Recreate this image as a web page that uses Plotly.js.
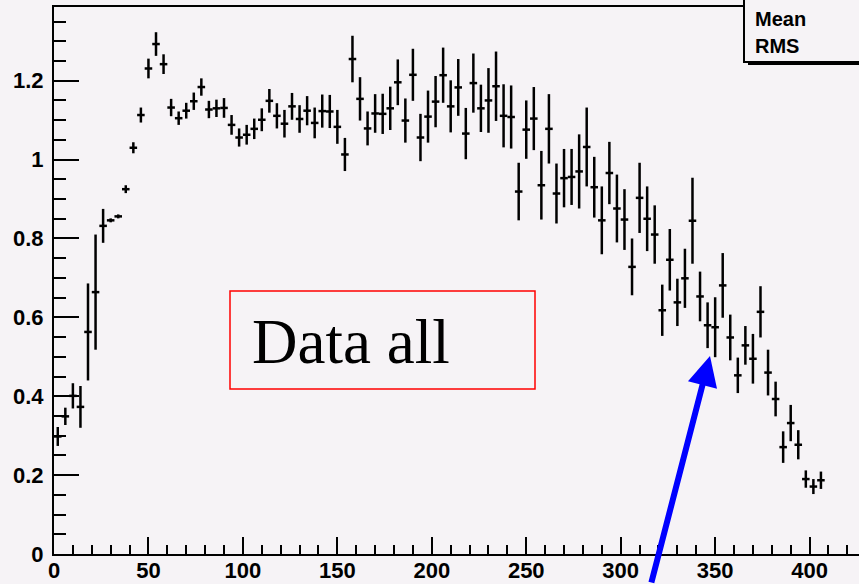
<!DOCTYPE html>
<html>
<head>
<meta charset="utf-8">
<script src="https://cdn.plot.ly/plotly-3.0.1.min.js"></script>
<style>
  html, body { margin: 0; padding: 0; background: #f6f3f6; }
  #chart { width: 859px; height: 584px; }
</style>
</head>
<body>
<div id="chart"></div>
<script>
// Bin centres of the histogram (bin width 4)
const binCenters = [
  2, 6, 10, 14, 18, 22, 26, 30, 34, 38,
  42, 46, 50, 54, 58, 62, 66, 70, 74, 78,
  82, 86, 90, 94, 98, 102, 106, 110, 114, 118,
  122, 126, 130, 134, 138, 142, 146, 150, 154, 158,
  162, 166, 170, 174, 178, 182, 186, 190, 194, 198,
  202, 206, 210, 214, 218, 222, 226, 230, 234, 238,
  242, 246, 250, 254, 258, 262, 266, 270, 274, 278,
  282, 286, 290, 294, 298, 302, 306, 310, 314, 318,
  322, 326, 330, 334, 338, 342, 346, 350, 354, 358,
  362, 366, 370, 374, 378, 382, 386, 390, 394, 398,
  402, 406
];
const binHalfWidth = 2;

// Bin contents
const binValues = [
  0.298, 0.349, 0.401, 0.373, 0.563, 0.664, 0.832, 0.846, 0.856, 0.925,
  1.030, 1.113, 1.231, 1.293, 1.242, 1.132, 1.105, 1.124, 1.148, 1.184,
  1.127, 1.130, 1.131, 1.088, 1.056, 1.063, 1.078, 1.101, 1.149, 1.111,
  1.091, 1.135, 1.103, 1.124, 1.093, 1.123, 1.122, 1.083, 1.013, 1.255,
  1.154, 1.079, 1.117, 1.116, 1.130, 1.196, 1.099, 1.215, 1.056, 1.109,
  1.147, 1.214, 1.135, 1.183, 1.066, 1.194, 1.130, 1.150, 1.186, 1.111,
  1.108, 0.919, 1.076, 1.104, 0.935, 1.078, 0.914, 0.953, 0.956, 0.970,
  1.032, 0.930, 0.846, 0.966, 0.876, 0.848, 0.728, 0.903, 0.850, 0.810,
  0.618, 0.746, 0.638, 0.699, 0.845, 0.653, 0.580, 0.575, 0.681, 0.549,
  0.453, 0.529, 0.495, 0.614, 0.460, 0.393, 0.271, 0.332, 0.277, 0.190,
  0.171, 0.187
];

// Bin errors
const binErrors = [
  0.024, 0.022, 0.032, 0.053, 0.123, 0.146, 0.043, 0.005, 0.005, 0.010,
  0.014, 0.019, 0.025, 0.030, 0.025, 0.022, 0.017, 0.020, 0.022, 0.022,
  0.022, 0.022, 0.025, 0.025, 0.023, 0.025, 0.026, 0.029, 0.030, 0.032,
  0.035, 0.034, 0.035, 0.037, 0.039, 0.042, 0.042, 0.043, 0.042, 0.059,
  0.055, 0.043, 0.049, 0.051, 0.055, 0.058, 0.056, 0.066, 0.060, 0.066,
  0.065, 0.070, 0.066, 0.072, 0.065, 0.075, 0.060, 0.082, 0.088, 0.080,
  0.080, 0.073, 0.074, 0.080, 0.087, 0.088, 0.076, 0.074, 0.071, 0.094,
  0.100, 0.077, 0.086, 0.079, 0.086, 0.077, 0.072, 0.089, 0.082, 0.074,
  0.065, 0.078, 0.060, 0.075, 0.109, 0.063, 0.058, 0.076, 0.082, 0.058,
  0.045, 0.049, 0.063, 0.065, 0.058, 0.044, 0.040, 0.046, 0.037, 0.022,
  0.019, 0.022
];

const labelText = "Data all";
const statsLabels = ["Mean", "RMS"];

const bg = '#f6f3f6';
const tickFont = { family: 'Liberation Sans, Arial, sans-serif', size: 22, color: '#000', weight: 'bold' };

const trace = {
  type: 'scatter',
  mode: 'markers',
  x: binCenters,
  y: binValues,
  marker: { size: 1, color: '#000', opacity: 0 },
  error_y: { type: 'data', array: binErrors, visible: true, color: '#000', thickness: 2.5, width: 0 },
  error_x: { type: 'constant', value: binHalfWidth, visible: true, color: '#000', thickness: 2.5, width: 0 },
  hoverinfo: 'skip',
  showlegend: false
};

const L = 54, T = 7, W = 859, H = 584, B = 30;
const pw = W - L, ph = H - T - B;
const px = v => (v - L) / pw;       // pixel x -> paper
const py = v => (H - B - v) / ph;   // pixel y -> paper

const layout = {
  width: W, height: H,
  margin: { l: L, r: 0, t: T, b: B, pad: 0 },
  paper_bgcolor: bg,
  plot_bgcolor: bg,
  showlegend: false,
  xaxis: {
    range: [0, pw / 1.889],
    showgrid: false, zeroline: false,
    showline: true, linecolor: '#000', linewidth: 2, mirror: true,
    ticks: 'inside', ticklen: 17, tickwidth: 2, tickcolor: '#000',
    tick0: 0, dtick: 50,
    ticklabelstandoff: -4,
    minor: { ticks: 'inside', ticklen: 9, tickwidth: 2, tickcolor: '#000', dtick: 10, showgrid: false },
    tickfont: tickFont
  },
  yaxis: {
    range: [0, ph / 394.4],
    showgrid: false, zeroline: false,
    showline: true, linecolor: '#000', linewidth: 2, mirror: false,
    ticks: 'inside', ticklen: 25, tickwidth: 2, tickcolor: '#000',
    tick0: 0, dtick: 0.2,
    ticklabelstandoff: 4,
    minor: { ticks: 'inside', ticklen: 12, tickwidth: 2, tickcolor: '#000', dtick: 0.05, showgrid: false },
    tickfont: tickFont
  },
  shapes: [
    { type: 'rect', xref: 'paper', yref: 'paper', x0: px(230), x1: px(535), y0: py(389), y1: py(291),
      line: { color: '#ff0000', width: 1.5 }, fillcolor: 'rgba(0,0,0,0)', layer: 'above' },
    { type: 'rect', xref: 'paper', yref: 'paper', x0: px(744), x1: px(870), y0: py(62), y1: py(-10),
      line: { color: '#000', width: 2 }, fillcolor: bg, layer: 'above' },
    { type: 'line', xref: 'paper', yref: 'paper', x0: px(748), x1: px(870), y0: py(63.5), y1: py(63.5),
      line: { color: '#000', width: 3 }, layer: 'above' }
  ],
  annotations: [
    { xref: 'paper', yref: 'paper', x: px(250), y: py(342), xanchor: 'left', yanchor: 'middle',
      text: labelText, showarrow: false,
      font: { family: 'Liberation Serif, Times New Roman, serif', size: 63, color: '#000' } },
    { xref: 'paper', yref: 'paper', x: px(753), y: py(19), xanchor: 'left', yanchor: 'middle',
      text: statsLabels[0], showarrow: false,
      font: { family: 'Liberation Sans, Arial, sans-serif', size: 20, color: '#000', weight: 'bold' } },
    { xref: 'paper', yref: 'paper', x: px(753), y: py(46), xanchor: 'left', yanchor: 'middle',
      text: statsLabels[1], showarrow: false,
      font: { family: 'Liberation Sans, Arial, sans-serif', size: 20, color: '#000', weight: 'bold' } },
    { xref: 'paper', yref: 'paper', x: px(710), y: py(356), text: '', showarrow: true,
      ax: -59, ay: 244, arrowcolor: '#0000ff', arrowwidth: 6, arrowhead: 2, arrowsize: 1, standoff: 0 }
  ]
};

Plotly.newPlot('chart', [trace], layout, { staticPlot: true, displayModeBar: false });
</script>
</body>
</html>
